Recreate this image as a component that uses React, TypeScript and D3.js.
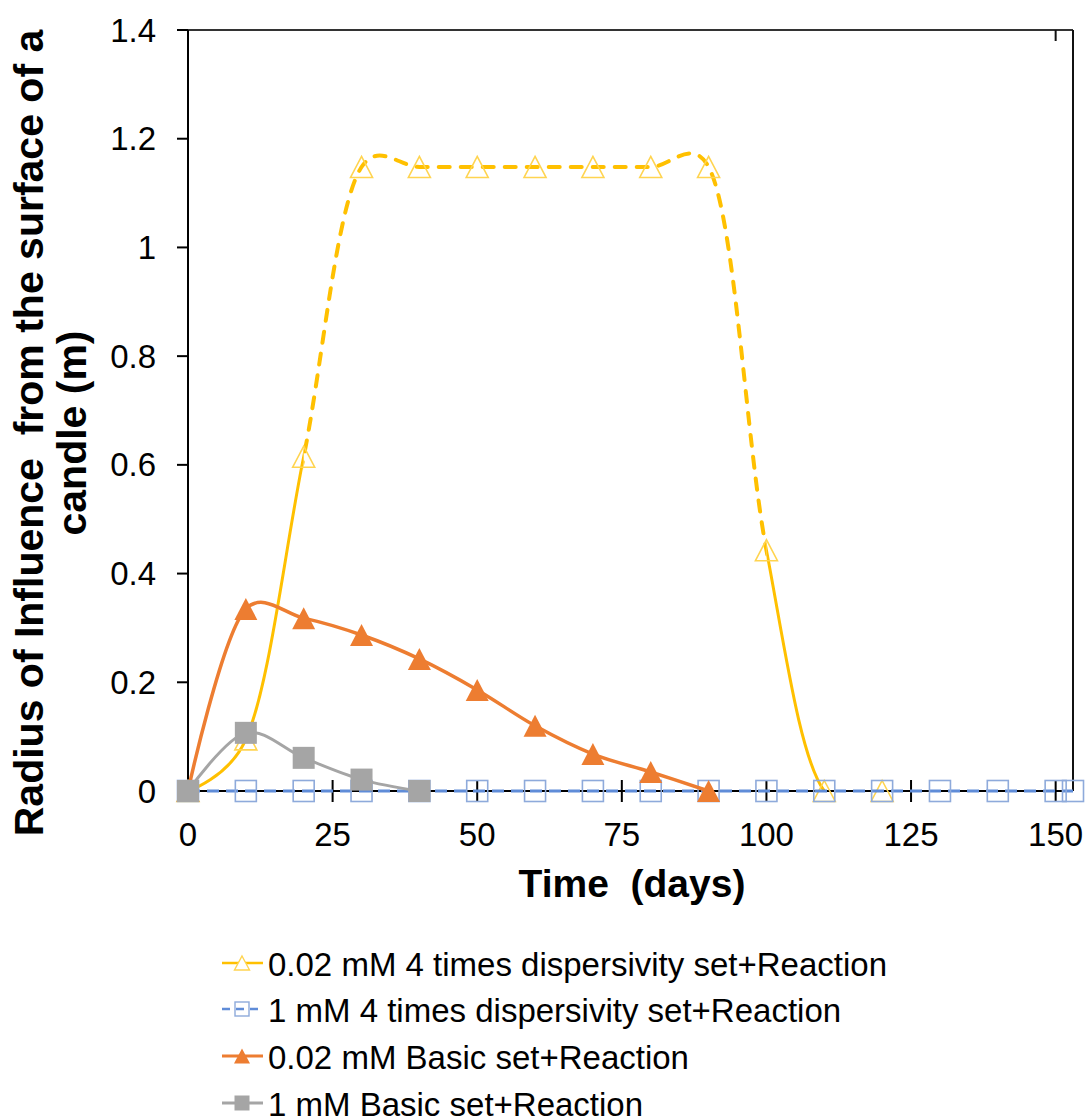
import React from 'react';
import * as d3 from 'd3';

// ---- data ----
const yellowX = [0, 10, 20, 30, 40, 50, 60, 70, 80, 90, 100, 110, 120];
const yellowY = [0, 0.095, 0.615, 1.148, 1.148, 1.148, 1.148, 1.148, 1.148, 1.148, 0.443, 0, 0];
const blueX = [0, 10, 20, 30, 40, 50, 60, 70, 80, 90, 100, 110, 120, 130, 140, 150, 153];
const blueY = [0, 0, 0, 0, 0, 0, 0, 0, 0, 0, 0, 0, 0, 0, 0, 0, 0];
const orangeX = [0, 10, 20, 30, 40, 50, 60, 70, 80, 90];
const orangeY = [0, 0.335, 0.318, 0.287, 0.243, 0.186, 0.12, 0.068, 0.035, 0];
const grayX = [0, 10, 20, 30, 40];
const grayY = [0, 0.107, 0.061, 0.021, 0];
const xTicks = [0, 25, 50, 75, 100, 125, 150];
const yTicks = [0, 0.2, 0.4, 0.6, 0.8, 1, 1.2, 1.4];
const legendLabels = [
  '0.02 mM 4 times dispersivity set+Reaction',
  '1 mM 4 times dispersivity set+Reaction',
  '0.02 mM Basic set+Reaction',
  '1 mM Basic set+Reaction',
];

const W = 1087;
const H = 1118;
const FONT = '"Liberation Sans", Arial, sans-serif';
const YELLOW = '#FFC000';
const YELLOW_MK = '#FFD450';
const BLUE = '#5F8CD8';
const BLUE_MK = '#8EAADB';
const ORANGE = '#ED7D31';
const GRAY = '#A5A5A5';

const x = d3.scaleLinear().domain([0, 153]).range([188, 1073]);
const y = d3.scaleLinear().domain([0, 1.4]).range([791, 30]);

const zip = (xs: number[], ys: number[]) => xs.map((v, i) => [v, ys[i]] as [number, number]);

const lineGen = d3
  .line<[number, number]>()
  .x((d) => x(d[0]))
  .y((d) => y(d[1]))
  .curve(d3.curveCatmullRom.alpha(0.25));

const straight = d3
  .line<[number, number]>()
  .x((d) => x(d[0]))
  .y((d) => y(d[1]));

const tri = (cx: number, cy: number, w: number, h: number) =>
  `M${cx},${cy - h / 2}L${cx + w / 2},${cy + h / 2}L${cx - w / 2},${cy + h / 2}Z`;

const pre = { whiteSpace: 'pre' as const };

export default function App() {
  const yellow = zip(yellowX, yellowY);
  const blue = zip(blueX, blueY);
  const orange = zip(orangeX, orangeY);
  const gray = zip(grayX, grayY);
  const yellowPath = lineGen(yellow) || '';
  const x0 = x(0);
  const x20 = x(20);
  const x100 = x(100);
  const xEnd = x(153);
  const yZero = y(0);

  const legendY = [963, 1009, 1056, 1103];
  const lx1 = 222;
  const lx2 = 263;
  const lmx = 242;

  return (
    <svg
      width={W}
      height={H}
      style={{ position: 'absolute', left: 0, top: 0, background: '#fff' }}
      fontFamily={FONT}
    >
      <defs>
        <clipPath id="clipA">
          <rect x={0} y={0} width={x20 - 0} height={yZero + 1} />
        </clipPath>
        <clipPath id="clipB">
          <rect x={x20} y={0} width={x100 - x20} height={yZero + 1} />
        </clipPath>
        <clipPath id="clipC">
          <rect x={x100} y={0} width={W - x100} height={yZero + 1} />
        </clipPath>
      </defs>
      <rect x={0} y={0} width={W} height={H} fill="#fff" />

      {/* plot frame */}
      <line x1={x0} x2={xEnd} y1={y(1.4)} y2={y(1.4)} stroke="#333" strokeWidth={2} />
      <line x1={xEnd} x2={xEnd} y1={y(1.4)} y2={yZero} stroke="#111" strokeWidth={2} />
      <line x1={x(150)} x2={x(150)} y1={y(1.4)} y2={y(1.4) + 11} stroke="#111" strokeWidth={2} />

      {/* y axis */}
      <line x1={x0} x2={x0} y1={y(1.4)} y2={yZero} stroke="#000" strokeWidth={2} />
      {yTicks.map((t) => (
        <g key={'yt' + t}>
          <line x1={x0 - 11} x2={x0} y1={y(t)} y2={y(t)} stroke="#000" strokeWidth={2} />
          <text
            x={156}
            y={y(t)}
            fontSize={33}
            textAnchor="end"
            dominantBaseline="central"
            fill="#000"
          >
            {String(+t.toFixed(1))}
          </text>
        </g>
      ))}

      {/* x axis */}
      <line x1={x0} x2={xEnd} y1={yZero} y2={yZero} stroke="#000" strokeWidth={2} />
      {xTicks.map((t) => (
        <g key={'xt' + t}>
          <line x1={x(t)} x2={x(t)} y1={yZero - 11} y2={yZero + 11} stroke="#000" strokeWidth={2} />
          <text x={x(t)} y={846} fontSize={33} textAnchor="middle" fill="#000">
            {String(t)}
          </text>
        </g>
      ))}

      {/* axis titles */}
      <text
        x={632}
        y={897}
        fontSize={39}
        fontWeight="bold"
        textAnchor="middle"
        fill="#000"
        style={pre}
      >
        {'Time  (days)'}
      </text>
      <g transform="translate(43,433) rotate(-90)">
        <text x={0} y={0} fontSize={41} fontWeight="bold" textAnchor="middle" fill="#000" style={pre}>
          {'Radius of Influence  from the surface of a'}
        </text>
        <text x={0} y={43} fontSize={41} fontWeight="bold" textAnchor="middle" fill="#000" style={pre}>
          {'candle (m)'}
        </text>
      </g>

      {/* series 1: yellow */}
      <path d={yellowPath} fill="none" stroke={YELLOW} strokeWidth={3} clipPath="url(#clipA)" />
      <path
        d={yellowPath}
        fill="none"
        stroke={YELLOW}
        strokeWidth={4}
        strokeDasharray="11,11"
        strokeLinecap="round"
        clipPath="url(#clipB)"
      />
      <path d={yellowPath} fill="none" stroke={YELLOW} strokeWidth={3} clipPath="url(#clipC)" />
      {yellow.map((d, i) => (
        <path
          key={'ym' + i}
          d={tri(x(d[0]), y(d[1]), 22, 21)}
          fill="none"
          stroke={YELLOW_MK}
          strokeWidth={1.6}
        />
      ))}

      {/* series 2: blue dashed */}
      <path
        d={straight(blue) || ''}
        fill="none"
        stroke={BLUE}
        strokeWidth={3}
        strokeDasharray="12,7"
      />
      {blue.map((d, i) => (
        <rect
          key={'bm' + i}
          x={x(d[0]) - 10.5}
          y={y(d[1]) - 10.5}
          width={21}
          height={21}
          fill="none"
          stroke={BLUE_MK}
          strokeWidth={1.6}
        />
      ))}

      {/* series 3: orange */}
      <path d={lineGen(orange) || ''} fill="none" stroke={ORANGE} strokeWidth={3.5} />
      {orange.map((d, i) => (
        <path key={'om' + i} d={tri(x(d[0]), y(d[1]), 23, 22)} fill={ORANGE} stroke="none" />
      ))}

      {/* series 4: gray */}
      <path d={lineGen(gray) || ''} fill="none" stroke={GRAY} strokeWidth={3} />
      {gray.map((d, i) => (
        <rect
          key={'gm' + i}
          x={x(d[0]) - 11}
          y={y(d[1]) - 11}
          width={22}
          height={22}
          fill={GRAY}
        />
      ))}

      {/* legend */}
      <g>
        <line x1={lx1} x2={lx2} y1={legendY[0]} y2={legendY[0]} stroke={YELLOW} strokeWidth={2.5} />
        <path d={tri(lmx, legendY[0], 15, 14)} fill="#fff" stroke={YELLOW_MK} strokeWidth={1.4} />

        <line
          x1={lx1}
          x2={lx2}
          y1={legendY[1]}
          y2={legendY[1]}
          stroke={BLUE}
          strokeWidth={2.5}
          strokeDasharray="8,6"
        />
        <rect
          x={lmx - 7}
          y={legendY[1] - 7}
          width={14}
          height={14}
          fill="none"
          stroke={BLUE_MK}
          strokeWidth={1.4}
        />

        <line x1={lx1} x2={lx2} y1={legendY[2]} y2={legendY[2]} stroke={ORANGE} strokeWidth={3} />
        <path d={tri(lmx, legendY[2], 16, 15)} fill={ORANGE} />

        <line x1={lx1} x2={lx2} y1={legendY[3]} y2={legendY[3]} stroke={GRAY} strokeWidth={3} />
        <rect x={lmx - 7.5} y={legendY[3] - 7.5} width={15} height={15} fill={GRAY} />

        {legendLabels.map((l, i) => (
          <text key={'lg' + i} x={268} y={legendY[i] + 13} fontSize={33} fill="#000">
            {l}
          </text>
        ))}
      </g>
    </svg>
  );
}
